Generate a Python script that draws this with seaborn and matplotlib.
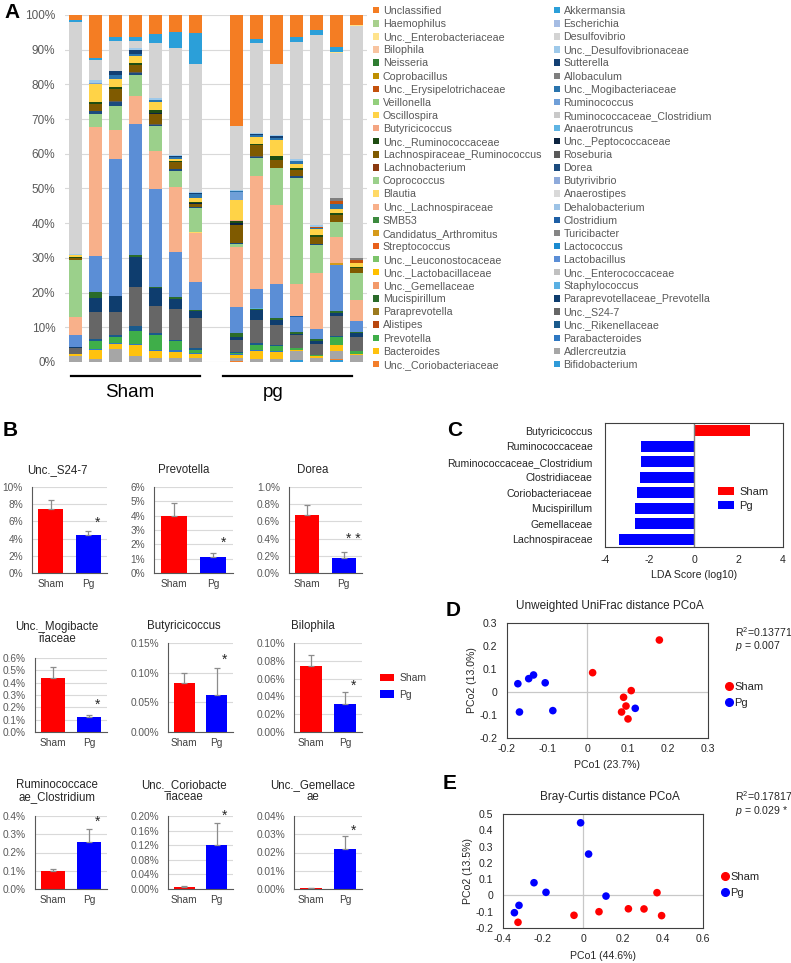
import numpy as np
import pandas as pd
import seaborn as sns
import matplotlib.pyplot as plt
from matplotlib.patches import Patch
from matplotlib.lines import Line2D

# ---------------- data ----------------
# panel A: relative abundance (%) for 7 Sham and 7 Pg mice
sample_pos = [0, 1, 2, 3, 4, 5, 6, 8, 9, 10, 11, 12, 13, 14]

left_taxa = ['Unclassified', 'Haemophilus', 'Unc._Enterobacteriaceae', 'Bilophila', 'Neisseria',
             'Coprobacillus', 'Unc._Erysipelotrichaceae', 'Veillonella', 'Oscillospira', 'Butyricicoccus',
             'Unc._Ruminococcaceae', 'Lachnospiraceae_Ruminococcus', 'Lachnobacterium', 'Coprococcus',
             'Blautia', 'Unc._Lachnospiraceae', 'SMB53', 'Candidatus_Arthromitus', 'Streptococcus',
             'Unc._Leuconostocaceae', 'Unc._Lactobacillaceae', 'Unc._Gemellaceae', 'Mucispirillum',
             'Paraprevotella', 'Alistipes', 'Prevotella', 'Bacteroides', 'Unc._Coriobacteriaceae']
left_colors = ['#f47d23', '#a8d08d', '#ffe38c', '#f8c4a0', '#2f7d32', '#bf8f00', '#c4510c', '#93cf7c',
               '#ffd347', '#f4a582', '#1e4d12', '#7f5a00', '#8b3a10', '#9bd08b', '#ffd966', '#f8b08a',
               '#3c8a3e', '#d69a1a', '#e8601c', '#7cc46a', '#ffc000', '#f39a6a', '#2a6b2a', '#9c7a1f',
               '#b8470f', '#3fae49', '#ffc20e', '#f37e2a']
right_taxa = ['Akkermansia', 'Escherichia', 'Desulfovibrio', 'Unc._Desulfovibrionaceae', 'Sutterella',
              'Allobaculum', 'Unc._Mogibacteriaceae', 'Ruminococcus', 'Ruminococcaceae_Clostridium',
              'Anaerotruncus', 'Unc._Peptococcaceae', 'Roseburia', 'Dorea', 'Butyrivibrio', 'Anaerostipes',
              'Dehalobacterium', 'Clostridium', 'Turicibacter', 'Lactococcus', 'Lactobacillus',
              'Unc._Enterococcaceae', 'Staphylococcus', 'Paraprevotellaceae_Prevotella', 'Unc._S24-7',
              'Unc._Rikenellaceae', 'Parabacteroides', 'Adlercreutzia', 'Bifidobacterium']
right_colors = ['#2b9fd9', '#a5bce3', '#d3d3d3', '#9ec9ea', '#123f73', '#7f7f7f', '#2a74ad', '#6f9fd8',
                '#c9c9c9', '#5fb4e3', '#0c2340', '#5a5a5a', '#1b4b7e', '#8eaadb', '#d9d9d9', '#9dc3e6',
                '#1e5fa6', '#858585', '#1b8bd0', '#5b8ed6', '#c0c0c0', '#5ab0e3', '#0e3d6e', '#666666',
                '#1a5a8c', '#2e78c2', '#a6a6a6', '#2f9ad8']

unclassified = [1.5, 12.5, 6.4, 6.2, 5.5, 5.0, 5.2, 32.0, 6.9, 14.2, 6.4, 4.3, 9.1, 2.9]
akkermansia = [0.5, 0.6, 1.0, 1.4, 2.5, 4.5, 9.0, 0, 1.2, 0, 1.3, 1.5, 1.5, 0]
unc_enterobacteriaceae = [0, 0, 0, 0, 0, 0, 0, 0, 0, 0, 0, 0, 0.3, 0.3]
desulfovibrio = [67.0, 5.7, 8.8, 1.9, 16.0, 30.8, 36.9, 18.5, 25.8, 20.5, 33.9, 54.7, 41.8, 66.9]
unc_desulfovibrionaceae = [0.3, 0.8, 0, 0.5, 0.4, 0.3, 0.3, 0.3, 0.3, 0.3, 0.6, 0.5, 0, 0]
sutterella = [0, 0, 1.2, 1.3, 0, 0.3, 0.3, 0, 0.5, 0.5, 0, 0, 0, 0]
allobaculum = [0, 0, 0, 0, 0, 0, 0, 0, 0, 0, 0, 0, 1.0, 0.6]
unc_erysipelotrichaceae = [0, 0, 0, 0, 0, 0, 0, 0, 0, 0, 0, 0.3, 0.8, 0.8]
unc_mogibacteriaceae = [0, 0, 1.0, 0.5, 0.8, 0.6, 0.9, 0.3, 0.4, 0.5, 0.6, 0.5, 1.5, 0]
ruminococcus = [0, 0.4, 0, 0, 0, 0, 0, 2.2, 0, 0, 0, 0, 0, 0]
oscillospira = [0.3, 5.0, 2.3, 2.0, 2.3, 0.6, 1.2, 5.7, 2.0, 4.6, 1.4, 1.7, 1.2, 1.0]
butyricicoccus = [0, 0, 0, 0, 0, 0, 0, 0.3, 0, 0, 0, 0, 0, 0]
unc_ruminococcaceae = [0.3, 0.7, 0.7, 0.5, 0.8, 0.4, 0.5, 0.7, 0.5, 1.2, 0.5, 0.4, 0.5, 0.3]
unc_peptococcaceae = [0, 0, 0, 0, 0.3, 0, 0.2, 0.4, 0, 0, 0, 0, 0, 0]
lachno_ruminococcus = [0.7, 2.0, 3.4, 2.2, 2.7, 2.0, 0.8, 5.3, 3.0, 2.4, 1.7, 2.0, 2.0, 1.5]
roseburia = [0, 0, 0.3, 0.3, 0.3, 0, 0, 0, 0.3, 0, 0, 0, 0, 0]
dorea = [0, 0.8, 1.0, 0.5, 0.5, 0.5, 0.4, 0.4, 0.4, 0, 0.5, 0.3, 0, 0]
coprococcus = [16.5, 3.8, 7.1, 6.1, 7.0, 4.6, 6.7, 0.8, 5.1, 10.6, 30.5, 8.2, 4.2, 7.8]
blautia = [0, 0, 0, 0, 0, 0, 0.3, 0, 0, 0, 0, 0, 0, 0]
unc_lachnospiraceae = [5.2, 37.2, 8.2, 8.0, 11.1, 18.7, 14.3, 17.3, 32.7, 22.6, 9.4, 16.2, 7.6, 6.0]
candidatus_arthromitus = [0, 0, 0, 0, 0, 0, 0, 0, 0, 0, 0, 0, 0.6, 0]
clostridium = [0, 0, 0, 0, 0, 0, 0, 0, 0, 0, 0.3, 0, 0, 0]
lactobacillus = [3.3, 10.2, 39.7, 37.9, 28.2, 13.1, 8.0, 7.3, 5.2, 9.8, 4.3, 2.8, 13.2, 3.3]
staphylococcus = [0, 0, 0, 0, 0, 0, 0, 0, 0.3, 0, 0, 0, 0, 0]
mucispirillum = [0.2, 2.0, 0, 0.5, 0.3, 0.5, 0.3, 1.2, 0.5, 0.8, 0.5, 0.5, 0.5, 0.3]
paraprev_prevotella = [0.3, 3.9, 4.4, 8.7, 5.2, 2.8, 2.1, 1.0, 2.7, 1.3, 0.2, 0.8, 1.0, 1.0]
unc_s24_7 = [1.5, 7.8, 6.6, 11.2, 7.8, 9.0, 8.7, 3.5, 6.7, 5.7, 3.9, 3.3, 5.7, 4.0]
unc_rikenellaceae = [0.2, 0.5, 0.6, 1.3, 0.4, 0.3, 0.3, 0.3, 0.5, 0.4, 0, 0, 0.2, 0.2]
prevotella = [0, 2.4, 1.8, 3.7, 4.3, 2.6, 1.0, 0.3, 1.4, 1.4, 0.4, 0.3, 2.3, 0.7]
parabacteroides = [0, 0.3, 0.2, 0.4, 0.3, 0.4, 0.2, 0.3, 0.3, 0.2, 0, 0, 0, 0]
bacteroides = [0.5, 2.4, 1.5, 3.1, 2.1, 1.8, 1.2, 0.7, 2.3, 2.0, 0.4, 0.5, 1.7, 0.5]
adlercreutzia = [1.7, 1.0, 3.8, 1.8, 1.2, 1.2, 1.2, 1.0, 1.0, 1.0, 2.7, 1.2, 2.3, 1.9]
unc_coriobacteriaceae = [0, 0, 0, 0, 0, 0, 0, 0.2, 0, 0, 0, 0, 0.4, 0]
bifidobacterium = [0, 0, 0, 0, 0, 0, 0, 0, 0, 0, 0.5, 0, 0.6, 0]

abundance = {
    'Unclassified': unclassified, 'Akkermansia': akkermansia,
    'Unc._Enterobacteriaceae': unc_enterobacteriaceae, 'Desulfovibrio': desulfovibrio,
    'Unc._Desulfovibrionaceae': unc_desulfovibrionaceae, 'Sutterella': sutterella,
    'Allobaculum': allobaculum, 'Unc._Erysipelotrichaceae': unc_erysipelotrichaceae,
    'Unc._Mogibacteriaceae': unc_mogibacteriaceae, 'Ruminococcus': ruminococcus,
    'Oscillospira': oscillospira, 'Butyricicoccus': butyricicoccus,
    'Unc._Ruminococcaceae': unc_ruminococcaceae, 'Unc._Peptococcaceae': unc_peptococcaceae,
    'Lachnospiraceae_Ruminococcus': lachno_ruminococcus, 'Roseburia': roseburia, 'Dorea': dorea,
    'Coprococcus': coprococcus, 'Blautia': blautia, 'Unc._Lachnospiraceae': unc_lachnospiraceae,
    'Candidatus_Arthromitus': candidatus_arthromitus, 'Clostridium': clostridium,
    'Lactobacillus': lactobacillus, 'Staphylococcus': staphylococcus, 'Mucispirillum': mucispirillum,
    'Paraprevotellaceae_Prevotella': paraprev_prevotella, 'Unc._S24-7': unc_s24_7,
    'Unc._Rikenellaceae': unc_rikenellaceae, 'Prevotella': prevotella,
    'Parabacteroides': parabacteroides, 'Bacteroides': bacteroides, 'Adlercreutzia': adlercreutzia,
    'Unc._Coriobacteriaceae': unc_coriobacteriaceae, 'Bifidobacterium': bifidobacterium,
}

# panel B: mean abundance (%) Sham / Pg with SE
groups = ['Sham', 'Pg']
b_titles = ['Unc._S24-7', 'Prevotella', 'Dorea', 'Unc._Mogibacte\nriaceae', 'Butyricicoccus', 'Bilophila',
            'Ruminococcace\nae_Clostridium', 'Unc._Coriobacte\nriaceae', 'Unc._Gemellace\nae']
b_means = [[7.4, 4.4], [3.95, 1.12], [0.68, 0.18], [0.435, 0.12], [0.083, 0.063], [0.074, 0.031],
           [0.099, 0.258], [0.006, 0.121], [0.0005, 0.022]]
b_errs = [[1.05, 0.5], [0.9, 0.28], [0.11, 0.06], [0.09, 0.017], [0.017, 0.045], [0.013, 0.014],
          [0.013, 0.069], [0.003, 0.06], [0.0003, 0.007]]
b_ymax = [10, 6, 1.0, 0.6, 0.15, 0.10, 0.4, 0.20, 0.04]
b_nticks = [5, 6, 5, 6, 3, 5, 4, 5, 4]
b_decimals = [0, 0, 1, 1, 2, 2, 1, 2, 2]
b_stars = ['*', '*', '* *', '*', '*', '*', '*', '*', '*']
b_star_y = [5.8, 2.1, 0.40, 0.22, 0.121, 0.052, 0.367, 0.20, 0.032]

# panel C: LEfSe LDA scores
lda_taxa = ['Butyricicoccus', 'Ruminococcaceae', 'Ruminococcaceae_Clostridium', 'Clostridiaceae',
            'Coriobacteriaceae', 'Mucispirillum', 'Gemellaceae', 'Lachnospiraceae']
lda_scores = [2.5, -2.39, -2.40, -2.41, -2.54, -2.64, -2.67, -3.36]
lda_group = ['Sham', 'Pg', 'Pg', 'Pg', 'Pg', 'Pg', 'Pg', 'Pg']

# panel D: unweighted UniFrac PCoA
d_sham_x = [0.179, 0.013, 0.109, 0.090, 0.096, 0.085, 0.101]
d_sham_y = [0.226, 0.084, 0.006, -0.023, -0.061, -0.087, -0.117]
d_pg_x = [-0.173, -0.146, -0.134, -0.105, -0.169, -0.086, 0.119]
d_pg_y = [0.036, 0.058, 0.074, 0.040, -0.087, -0.081, -0.071]

# panel E: Bray-Curtis PCoA
e_sham_x = [-0.325, -0.045, 0.08, 0.227, 0.305, 0.37, 0.393]
e_sham_y = [-0.165, -0.122, -0.100, -0.082, -0.083, 0.017, -0.124]
e_pg_x = [-0.012, 0.028, -0.245, -0.185, 0.115, -0.32, -0.343]
e_pg_y = [0.446, 0.254, 0.078, 0.019, -0.004, -0.061, -0.106]

RED = '#ff0000'
BLUE = '#0000ff'
GRID = '#d9d9d9'
TXT = '#595959'

W, H = 791, 963
plt.rcParams['font.family'] = ['Liberation Sans', 'DejaVu Sans']
plt.rcParams['axes.unicode_minus'] = False
plt.rcParams['mathtext.fontset'] = 'custom'
plt.rcParams['mathtext.rm'] = 'Liberation Sans'
plt.rcParams['mathtext.it'] = 'Liberation Sans:italic'

fig = plt.figure(figsize=(W / 100, H / 100), dpi=100)


def px_axes(x0, y0, x1, y1):
    return fig.add_axes([x0 / W, 1 - y1 / H, (x1 - x0) / W, (y1 - y0) / H])


def px_text(x, y, s, **kw):
    kw.setdefault('ha', 'center')
    kw.setdefault('va', 'center')
    return fig.text(x / W, 1 - y / H, s, **kw)


# ---------------- panel A ----------------
color_of = dict(zip(left_taxa + right_taxa, left_colors + right_colors))
stack_order = []
for i in range(27, -1, -1):
    stack_order += [right_taxa[i], left_taxa[i]]

axA = px_axes(65, 15, 367, 362)
bottom = np.zeros(len(sample_pos))
for name in stack_order:
    vals = np.array(abundance.get(name, [0] * len(sample_pos)), dtype=float)
    if vals.sum() > 0:
        axA.bar(sample_pos, vals, bottom=bottom, width=0.65, color=color_of[name], linewidth=0)
    bottom += vals
axA.set_xlim(-0.5, 14.5)
axA.set_ylim(0, 100)
axA.set_yticks(range(0, 101, 10))
axA.set_yticklabels([f'{v}%' for v in range(0, 101, 10)])
axA.set_xticks([])
axA.yaxis.grid(True, color=GRID, lw=0.8)
axA.set_axisbelow(True)
for s in axA.spines.values():
    s.set_visible(False)
axA.tick_params(axis='y', length=0, labelsize=8.5, colors=TXT, pad=7)
axA.plot([-0.2, 6.2], [-4, -4], color='black', lw=1.6, clip_on=False)
axA.plot([7.35, 13.76], [-4, -4], color='black', lw=1.6, clip_on=False)
axA.text(2.73, -8.9, 'Sham', ha='center', va='center', fontsize=13.5, clip_on=False)
axA.text(9.83, -8.9, 'pg', ha='center', va='center', fontsize=13.5, clip_on=False)

leg_kw = dict(loc='upper left', frameon=False, fontsize=7.7, handlelength=0.55, handleheight=0.55,
              handletextpad=0.35, labelspacing=0.29, borderpad=0, borderaxespad=0, labelcolor=TXT)
fig.legend([Patch(facecolor=c, edgecolor='none') for c in left_colors], left_taxa,
           bbox_to_anchor=(373 / W, 1 - 6 / H), **leg_kw)
fig.legend([Patch(facecolor=c, edgecolor='none') for c in right_colors], right_taxa,
           bbox_to_anchor=(554 / W, 1 - 6 / H), **leg_kw)
px_text(12, 12, 'A', fontsize=15, fontweight='bold')

# ---------------- panel B ----------------
b_boxes = [(32, 487, 107, 573), (154, 487, 233, 573), (289, 487, 362, 573),
           (35, 658, 107, 732), (168, 643, 233, 732), (294, 643, 362, 732),
           (35, 816, 107, 889), (168, 816, 233, 889), (294, 816, 362, 889)]
b_title_pos = [(57, 470), (184, 470), (313, 470), (57, 633), (184, 626), (313, 626),
               (57, 791), (184, 791), (313, 791)]

for k in range(9):
    ax = px_axes(*b_boxes[k])
    sns.barplot(x=groups, y=b_means[k], hue=groups, palette=[RED, BLUE], saturation=1,
                width=0.66, legend=False, ax=ax)
    ax.errorbar([0, 1], b_means[k], yerr=[[0, 0], b_errs[k]], fmt='none', ecolor='#8c8c8c',
                elinewidth=0.9, capsize=2, capthick=0.9)
    ticks = np.linspace(0, b_ymax[k], b_nticks[k] + 1)
    ax.set_ylim(0, b_ymax[k])
    ax.set_xlim(-0.5, 1.5)
    ax.set_yticks(ticks)
    ax.set_yticklabels([f'{t:.{b_decimals[k]}f}%' for t in ticks])
    ax.yaxis.grid(True, color=GRID, lw=0.8)
    ax.set_axisbelow(True)
    ax.spines['top'].set_visible(False)
    ax.spines['right'].set_visible(False)
    ax.spines['left'].set_color('#595959')
    ax.spines['bottom'].set_color('#595959')
    ax.tick_params(axis='both', length=0, labelsize=7.3, colors=TXT)
    ax.tick_params(axis='y', pad=6.5)
    ax.tick_params(axis='x', pad=4, colors='#404040')
    ax.set_xlabel('')
    ax.set_ylabel('')
    ax.text(1.25, b_star_y[k], b_stars[k], ha='center', va='center', fontsize=10, color='#262626')
    px_text(*b_title_pos[k], b_titles[k], fontsize=8.3, color='#262626', linespacing=1.05)

fig.legend([Patch(facecolor=RED), Patch(facecolor=BLUE)], groups, loc='upper left',
           bbox_to_anchor=(380 / W, 1 - 673 / H), frameon=False, fontsize=7.5, handlelength=1.35,
           handleheight=0.75, handletextpad=0.5, labelspacing=0.65, borderpad=0, borderaxespad=0,
           labelcolor='#404040')
px_text(10, 431, 'B', fontsize=15, fontweight='bold')

# ---------------- panel C ----------------
axC = px_axes(605, 423, 783, 547)
sns.barplot(x=lda_scores, y=lda_taxa, hue=lda_group, palette={'Sham': RED, 'Pg': BLUE},
            saturation=1, width=0.69, orient='h', dodge=False, legend=False, ax=axC)
axC.axvline(0, color='#808080', lw=1)
axC.set_xlim(-4, 4)
axC.set_ylim(7.5, -0.5)
axC.set_xticks([-4, -2, 0, 2, 4])
axC.set_xlabel('LDA Score (log10)', fontsize=7.6, color='#262626', labelpad=3)
axC.set_ylabel('')
axC.tick_params(axis='both', length=0, labelsize=7.6, colors='#262626')
axC.tick_params(axis='x', pad=6)
axC.tick_params(axis='y', pad=9)
for s in axC.spines.values():
    s.set_color('#404040')
    s.set_linewidth(0.8)
fig.legend([Patch(facecolor=RED), Patch(facecolor=BLUE)], groups, loc='upper left',
           bbox_to_anchor=(718 / W, 1 - 487 / H), frameon=False, fontsize=8, handlelength=1.4,
           handleheight=0.8, handletextpad=0.5, labelspacing=0.35, borderpad=0, borderaxespad=0,
           labelcolor='#262626')
px_text(455, 431, 'C', fontsize=15, fontweight='bold')


# ---------------- panels D, E ----------------
def pcoa(box, sx, sy, px_, py_, xlim, ylim, xstep, ystep):
    ax = px_axes(*box)
    df = pd.DataFrame({'x': sx + px_, 'y': sy + py_,
                       'group': ['Sham'] * len(sx) + ['Pg'] * len(px_)})
    ax.axvline(0, color='#c8c8c8', lw=0.9, zorder=0)
    ax.axhline(0, color='#c8c8c8', lw=0.9, zorder=0)
    sns.scatterplot(data=df, x='x', y='y', hue='group', palette={'Sham': RED, 'Pg': BLUE},
                    s=30, edgecolor='none', legend=False, ax=ax, zorder=3)
    ax.set_xlim(*xlim)
    ax.set_ylim(*ylim)
    xt = np.round(np.arange(xlim[0], xlim[1] + 1e-9, xstep), 2)
    yt = np.round(np.arange(ylim[0], ylim[1] + 1e-9, ystep), 2)
    ax.set_xticks(xt)
    ax.set_yticks(yt)
    ax.set_xticklabels(['0' if v == 0 else f'{v:g}' for v in xt])
    ax.set_yticklabels(['0' if v == 0 else f'{v:g}' for v in yt])
    ax.set_xlabel('')
    ax.set_ylabel('')
    ax.tick_params(axis='both', length=0, labelsize=7.6, colors='#262626')
    ax.tick_params(axis='y', pad=7)
    ax.tick_params(axis='x', pad=4)
    for s in ax.spines.values():
        s.set_color('#404040')
        s.set_linewidth(0.8)
    return ax


def dot_legend(x, y):
    handles = [Line2D([], [], marker='o', ls='', color=RED, markersize=5.5),
               Line2D([], [], marker='o', ls='', color=BLUE, markersize=5.5)]
    fig.legend(handles, groups, loc='upper left', bbox_to_anchor=(x / W, 1 - y / H), frameon=False,
               fontsize=8, handlelength=0.5, handletextpad=0.25, labelspacing=0.55, borderpad=0,
               borderaxespad=0, labelcolor='#262626')


pcoa((507, 623, 708, 738), d_sham_x, d_sham_y, d_pg_x, d_pg_y, (-0.2, 0.3), (-0.2, 0.3), 0.1, 0.1)
px_text(610, 606, 'Unweighted UniFrac distance PCoA', fontsize=8.5, color='#262626')
px_text(607, 765, 'PCo1 (23.7%)', fontsize=7.6, color='#262626')
px_text(472, 680, 'PCo2 (13.0%)', fontsize=7.6, color='#262626', rotation=90)
px_text(735, 632, 'R$^2$=0.13771', fontsize=7.6, color='#262626', ha='left')
px_text(735, 646, '$p$ = 0.007', fontsize=7.6, color='#262626', ha='left')
dot_legend(726, 682)
px_text(453, 610, 'D', fontsize=15, fontweight='bold')

pcoa((503, 814, 703, 928), e_sham_x, e_sham_y, e_pg_x, e_pg_y, (-0.4, 0.6), (-0.2, 0.5), 0.2, 0.1)
px_text(610, 797, 'Bray-Curtis distance PCoA', fontsize=8.5, color='#262626')
px_text(603, 956, 'PCo1 (44.6%)', fontsize=7.6, color='#262626')
px_text(468, 871, 'PCo2 (13.5%)', fontsize=7.6, color='#262626', rotation=90)
px_text(735, 796, 'R$^2$=0.17817', fontsize=7.6, color='#262626', ha='left')
px_text(735, 811, '$p$ = 0.029 *', fontsize=7.6, color='#262626', ha='left')
dot_legend(722, 872)
px_text(450, 783, 'E', fontsize=15, fontweight='bold')

fig.savefig('out.png', dpi=100)
